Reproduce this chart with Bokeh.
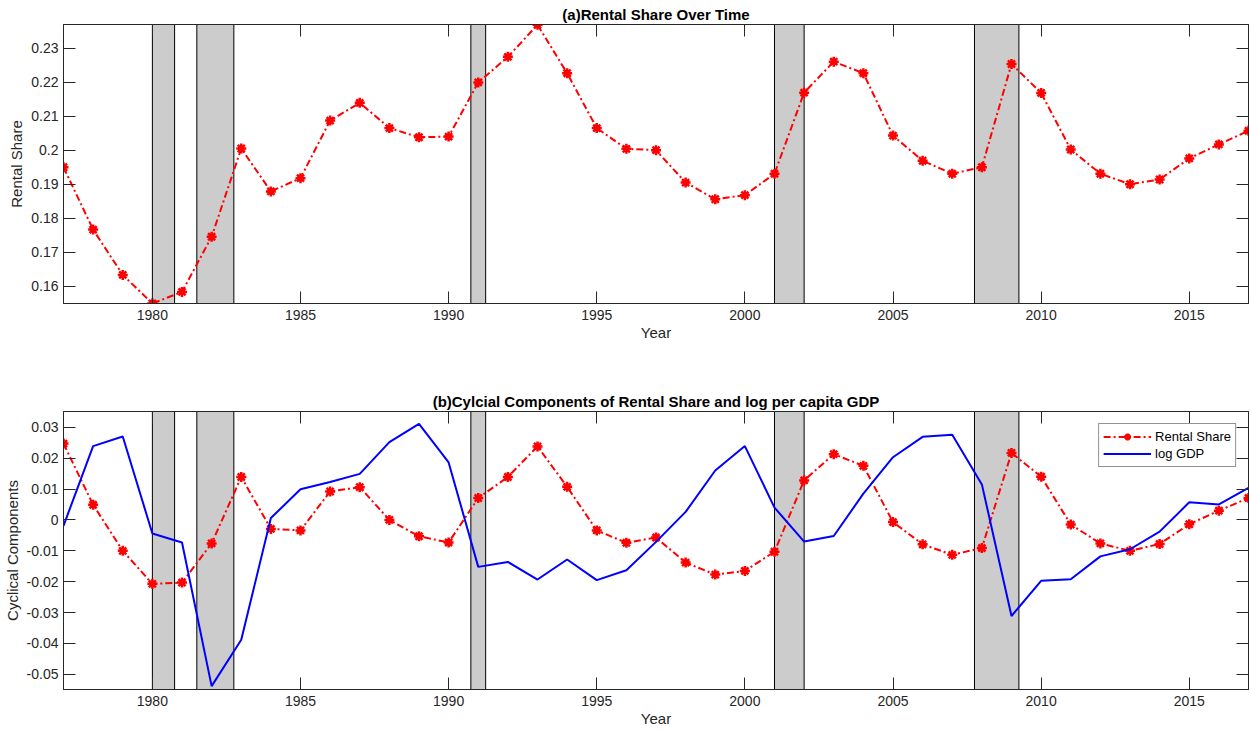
from bokeh.plotting import figure
from bokeh.layouts import column
from bokeh.models import (Range1d, FixedTicker, LinearAxis, BoxAnnotation, Title,
                          Legend, LegendItem)
from bokeh.embed import file_html
from bokeh.resources import INLINE

# ---------------- data ----------------
years = list(range(1977, 2018))

rental_share = [0.1950, 0.1767, 0.1634, 0.1550, 0.1584, 0.1746, 0.2005, 0.1879, 0.1918, 0.2087,
                0.2139, 0.2065, 0.2038, 0.2040, 0.2199, 0.2274, 0.2368, 0.2226, 0.2065, 0.2004,
                0.2000, 0.1905, 0.1856, 0.1868, 0.1931, 0.2169, 0.2260, 0.2226, 0.2043, 0.1969,
                0.1931, 0.1950, 0.2253, 0.2168, 0.2002, 0.1931, 0.1900, 0.1914, 0.1976, 0.2017,
                0.2057]

rental_cycle = [0.0247, 0.0049, -0.0100, -0.0207, -0.0203, -0.0076, 0.0139, -0.0029, -0.0034, 0.0092,
                0.0106, 0.0000, -0.0053, -0.0073, 0.0071, 0.0139, 0.0238, 0.0107, -0.0034, -0.0074,
                -0.0057, -0.0138, -0.0177, -0.0165, -0.0103, 0.0128, 0.0213, 0.0175, -0.0007, -0.0079,
                -0.0113, -0.0091, 0.0217, 0.0140, -0.0015, -0.0076, -0.0100, -0.0078, -0.0014, 0.0030,
                0.0071]

gdp_cycle = [-0.0019, 0.0239, 0.0270, -0.0044, -0.0073, -0.0538, -0.0388, 0.0006, 0.0099, 0.0123,
             0.0149, 0.0252, 0.0311, 0.0186, -0.0152, -0.0136, -0.0193, -0.0128, -0.0195, -0.0163,
             -0.0071, 0.0026, 0.0160, 0.0239, 0.0040, -0.0070, -0.0052, 0.0085, 0.0203, 0.0269,
             0.0276, 0.0115, -0.0311, -0.0197, -0.0192, -0.0118, -0.0095, -0.0038, 0.0057, 0.0050,
             0.0104]

rec_start = [1980.0, 1981.5, 1990.75, 2001.0, 2007.75]
rec_end = [1980.75, 1982.75, 1991.25, 2002.0, 2009.25]

x_ticks = [1980, 1985, 1990, 1995, 2000, 2005, 2010, 2015]
x_tick_labels = ["1980", "1985", "1990", "1995", "2000", "2005", "2010", "2015"]

top_y_ticks = [0.16, 0.17, 0.18, 0.19, 0.2, 0.21, 0.22, 0.23]
top_y_labels = ["0.16", "0.17", "0.18", "0.19", "0.2", "0.21", "0.22", "0.23"]

bot_y_ticks = [-0.05, -0.04, -0.03, -0.02, -0.01, 0, 0.01, 0.02, 0.03]
bot_y_labels = ["-0.05", "-0.04", "-0.03", "-0.02", "-0.01", "0", "0.01", "0.02", "0.03"]

x_lim = (1977, 2017)
top_y_lim = (0.155, 0.2369)
bot_y_lim = (-0.0549, 0.0351)

title_a = "(a)Rental Share Over Time"
title_b = "(b)Cylcial Components of Rental Share and log per capita GDP"

FONT = "Liberation Sans"
AX = "#262626"


def style_axis(ax, show_labels=True):
    ax.axis_line_color = AX
    ax.axis_line_width = 1
    ax.major_tick_line_color = AX
    ax.major_tick_line_width = 1
    ax.major_tick_in = 12
    ax.major_tick_out = 0
    ax.minor_tick_line_color = None
    ax.major_label_text_font = FONT
    ax.major_label_text_color = AX
    ax.axis_label_text_font = FONT
    ax.axis_label_text_font_size = "15px"
    ax.axis_label_text_font_style = "normal"
    ax.axis_label_text_color = AX
    if show_labels:
        ax.major_label_text_font_size = "14px"
    else:
        ax.major_label_text_font_size = "0px"
        ax.major_label_text_alpha = 0
        ax.major_label_standoff = 0


def make_fig(height, ylim, yticks, ylabels, ylabel, title, top_border, bottom_border):
    p = figure(width=1251, height=height, output_backend="svg", toolbar_location=None,
               x_range=Range1d(*x_lim), y_range=Range1d(*ylim),
               min_border_left=63, min_border_right=3,
               min_border_top=top_border, min_border_bottom=bottom_border)
    p.grid.visible = False
    p.outline_line_color = AX
    p.background_fill_color = "white"
    p.border_fill_color = "white"

    p.title = Title(text=title, align="center", text_font=FONT, text_font_style="bold",
                    text_font_size="15px", text_color="black", standoff=3)

    p.xaxis.ticker = FixedTicker(ticks=x_ticks)
    p.xaxis.major_label_overrides = dict(zip(x_ticks, x_tick_labels))
    p.xaxis.axis_label = "Year"
    p.yaxis.ticker = FixedTicker(ticks=yticks)
    p.yaxis.major_label_overrides = dict(zip(yticks, ylabels))
    p.yaxis.axis_label = ylabel
    style_axis(p.xaxis[0])
    style_axis(p.yaxis[0])
    p.yaxis[0].major_label_standoff = 5
    p.yaxis[0].axis_label_standoff = 3
    p.xaxis[0].major_label_standoff = 6
    p.xaxis[0].axis_label_standoff = 1

    ax_top = LinearAxis(ticker=FixedTicker(ticks=x_ticks))
    style_axis(ax_top, show_labels=False)
    p.add_layout(ax_top, "above")
    ax_right = LinearAxis(ticker=FixedTicker(ticks=yticks))
    style_axis(ax_right, show_labels=False)
    p.add_layout(ax_right, "right")

    for s, e in zip(rec_start, rec_end):
        p.add_layout(BoxAnnotation(left=s, right=e, fill_color="#cccccc", fill_alpha=1,
                                   line_color="black", line_alpha=1, line_width=1,
                                   level="underlay"))
    return p


p1 = make_fig(360, top_y_lim, top_y_ticks, top_y_labels, "Rental Share", title_a, 24, 57)
p1.line(years, rental_share, line_color="red", line_width=2, line_dash="7 3 2 3")
p1.scatter(years, rental_share, marker="asterisk", size=10, line_color="red", line_width=2.5)

p2 = make_fig(372, bot_y_lim, bot_y_ticks, bot_y_labels, "Cyclical Components", title_b, 51, 43)
r_line = p2.line(years, rental_cycle, line_color="red", line_width=2, line_dash="7 3 2 3")
r_pts = p2.scatter(years, rental_cycle, marker="asterisk", size=10, line_color="red", line_width=2.5)
g_line = p2.line(years, gdp_cycle, line_color="#0000ff", line_width=2)

legend = Legend(items=[LegendItem(label="Rental Share", renderers=[r_line, r_pts]),
                       LegendItem(label="log GDP", renderers=[g_line])],
                location="top_right", margin=12, padding=4, spacing=0,
                glyph_width=48, glyph_height=17, label_height=17, label_standoff=4,
                label_text_font=FONT, label_text_font_size="13px", label_text_color="black",
                border_line_color=AX, border_line_width=1, background_fill_alpha=1)
p2.add_layout(legend)

layout = column(p1, p2, spacing=0)
open("out.html", "w").write(file_html(layout, INLINE))
